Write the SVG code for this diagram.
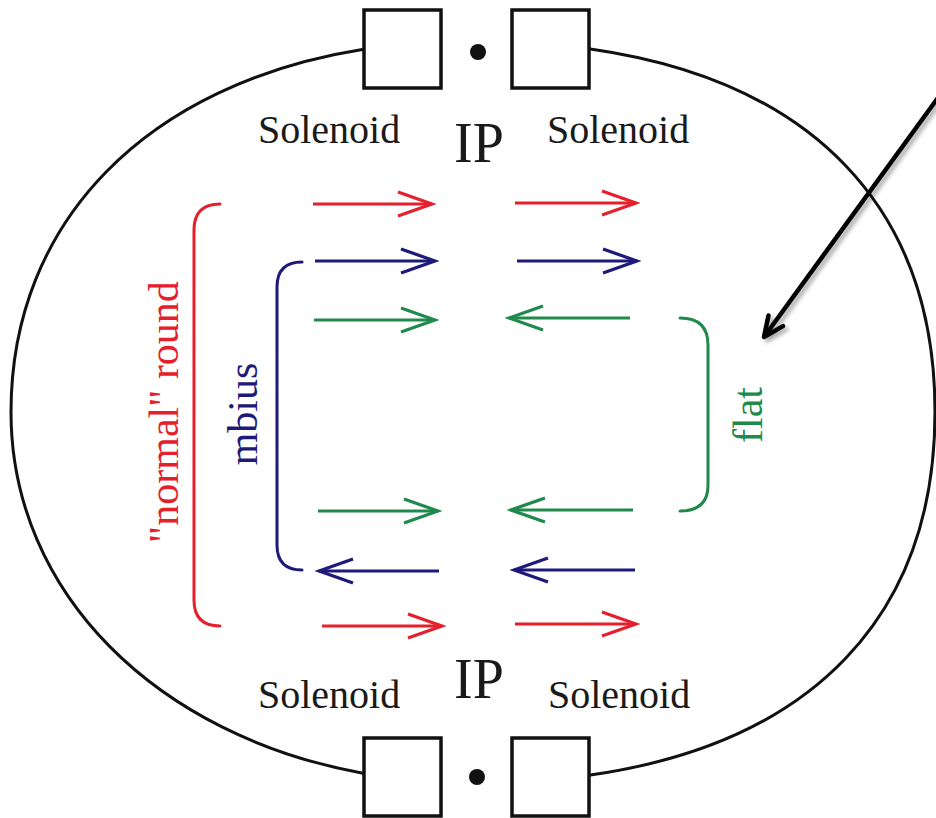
<svg xmlns="http://www.w3.org/2000/svg" width="936" height="818" viewBox="0 0 936 818">
<style>
.ring{fill:none;stroke:#111;stroke-width:3}
.box{fill:#fff;stroke:#111;stroke-width:3.5}
.lbl{font-family:"Liberation Serif","Times New Roman",serif;fill:#1a1a1a}
.sol{font-size:40px}
.ip{font-size:56px;text-anchor:middle}
.rot{font-family:"Liberation Serif","Times New Roman",serif;font-size:42px;text-anchor:middle}
.br{fill:none;stroke-width:3;stroke-linecap:round}
.a{fill:none;stroke-width:3.2}
.red{stroke:#e5202c}
.blue{stroke:#1e1a7a}
.green{stroke:#208a4c}
</style>
<defs>
<marker id="mr" markerUnits="userSpaceOnUse" viewBox="-40 -16 44 32" refX="0" refY="0" markerWidth="44" markerHeight="32" orient="auto"><path d="M-34 -12 L0 0 L-34 12" fill="none" stroke="#e5202c" stroke-width="3.2"/></marker>
<marker id="mb" markerUnits="userSpaceOnUse" viewBox="-40 -16 44 32" refX="0" refY="0" markerWidth="44" markerHeight="32" orient="auto"><path d="M-34 -12 L0 0 L-34 12" fill="none" stroke="#1e1a7a" stroke-width="3.2"/></marker>
<marker id="mg" markerUnits="userSpaceOnUse" viewBox="-40 -16 44 32" refX="0" refY="0" markerWidth="44" markerHeight="32" orient="auto"><path d="M-34 -12 L0 0 L-34 12" fill="none" stroke="#208a4c" stroke-width="3.2"/></marker>
<marker id="mk" markerUnits="userSpaceOnUse" viewBox="-26 -12 30 24" refX="0" refY="0" markerWidth="30" markerHeight="24" orient="auto"><path d="M-20 -9 L0 0 L-20 9" fill="none" stroke="#000" stroke-width="4.5" stroke-linecap="round" stroke-linejoin="round"/></marker>
<filter id="sh" x="-20%" y="-20%" width="140%" height="140%"><feDropShadow dx="3" dy="3" stdDeviation="2" flood-color="#000" flood-opacity="0.35"/></filter>
</defs>
<rect width="936" height="818" fill="#fff"/>
<g id="ring">
<path class="ring" d="M363.7 49.3 C148.3 83.4 11 220.1 11 412 C11 593.2 156.8 736.1 364.1 773.4"/>
<path class="ring" d="M588.7 48.7 C811.7 80.2 935 207.6 935 412 C935 616.4 811.7 743.8 588.7 775.3"/>
</g>
<g id="top-ip">
<rect class="box" x="364" y="10" width="77" height="78"/>
<rect class="box" x="512" y="10" width="77" height="78"/>
<circle cx="478" cy="52" r="8" fill="#111"/>
<text class="lbl sol" x="258" y="143">Solenoid</text>
<text class="lbl sol" x="547" y="143">Solenoid</text>
<text class="lbl ip" x="479" y="162">IP</text>
</g>
<g id="bottom-ip">
<rect class="box" x="364" y="738" width="77" height="78"/>
<rect class="box" x="512" y="738" width="77" height="78"/>
<circle cx="477" cy="777" r="8" fill="#111"/>
<text class="lbl sol" x="258" y="708">Solenoid</text>
<text class="lbl sol" x="548" y="708">Solenoid</text>
<text class="lbl ip" x="479" y="698">IP</text>
</g>
<g id="normal-round">
<path class="br red" d="M220 204 Q194 204 194 230 V600 Q194 626 220 626"/>
<text class="rot" fill="#e5202c" transform="translate(178 412) rotate(-90)">"normal" round</text>
</g>
<g id="mbius">
<path class="br blue" d="M302 262 Q277 262 277 287 V545 Q277 570 302 570"/>
<text class="rot" fill="#1e1a7a" transform="translate(257 414) rotate(-90)">mbius</text>
</g>
<g id="flat">
<path class="br green" d="M680 318 Q708 318 708 345 V485 Q708 511 680 511"/>
<text class="rot" fill="#208a4c" transform="translate(762 415) rotate(-90)">flat</text>
</g>
<g id="connectors">
<line class="a red" x1="313" y1="204" x2="432" y2="204" marker-end="url(#mr)"/>
<line class="a red" x1="515" y1="203" x2="636" y2="203" marker-end="url(#mr)"/>
<line class="a blue" x1="315" y1="261" x2="435" y2="261" marker-end="url(#mb)"/>
<line class="a blue" x1="517" y1="261" x2="637" y2="261" marker-end="url(#mb)"/>
<line class="a green" x1="314" y1="320" x2="435" y2="320" marker-end="url(#mg)"/>
<line class="a green" x1="630" y1="318" x2="509" y2="318" marker-end="url(#mg)"/>
<line class="a green" x1="318" y1="511" x2="438" y2="511" marker-end="url(#mg)"/>
<line class="a green" x1="633" y1="510" x2="511" y2="510" marker-end="url(#mg)"/>
<line class="a blue" x1="439" y1="571" x2="319" y2="571" marker-end="url(#mb)"/>
<line class="a blue" x1="635" y1="570" x2="514" y2="570" marker-end="url(#mb)"/>
<line class="a red" x1="322" y1="626" x2="442" y2="626" marker-end="url(#mr)"/>
<line class="a red" x1="515" y1="624" x2="636" y2="624" marker-end="url(#mr)"/>
<line x1="940" y1="95" x2="764" y2="337" stroke="#000" stroke-width="4.5" marker-end="url(#mk)" filter="url(#sh)"/>
</g>
</svg>
